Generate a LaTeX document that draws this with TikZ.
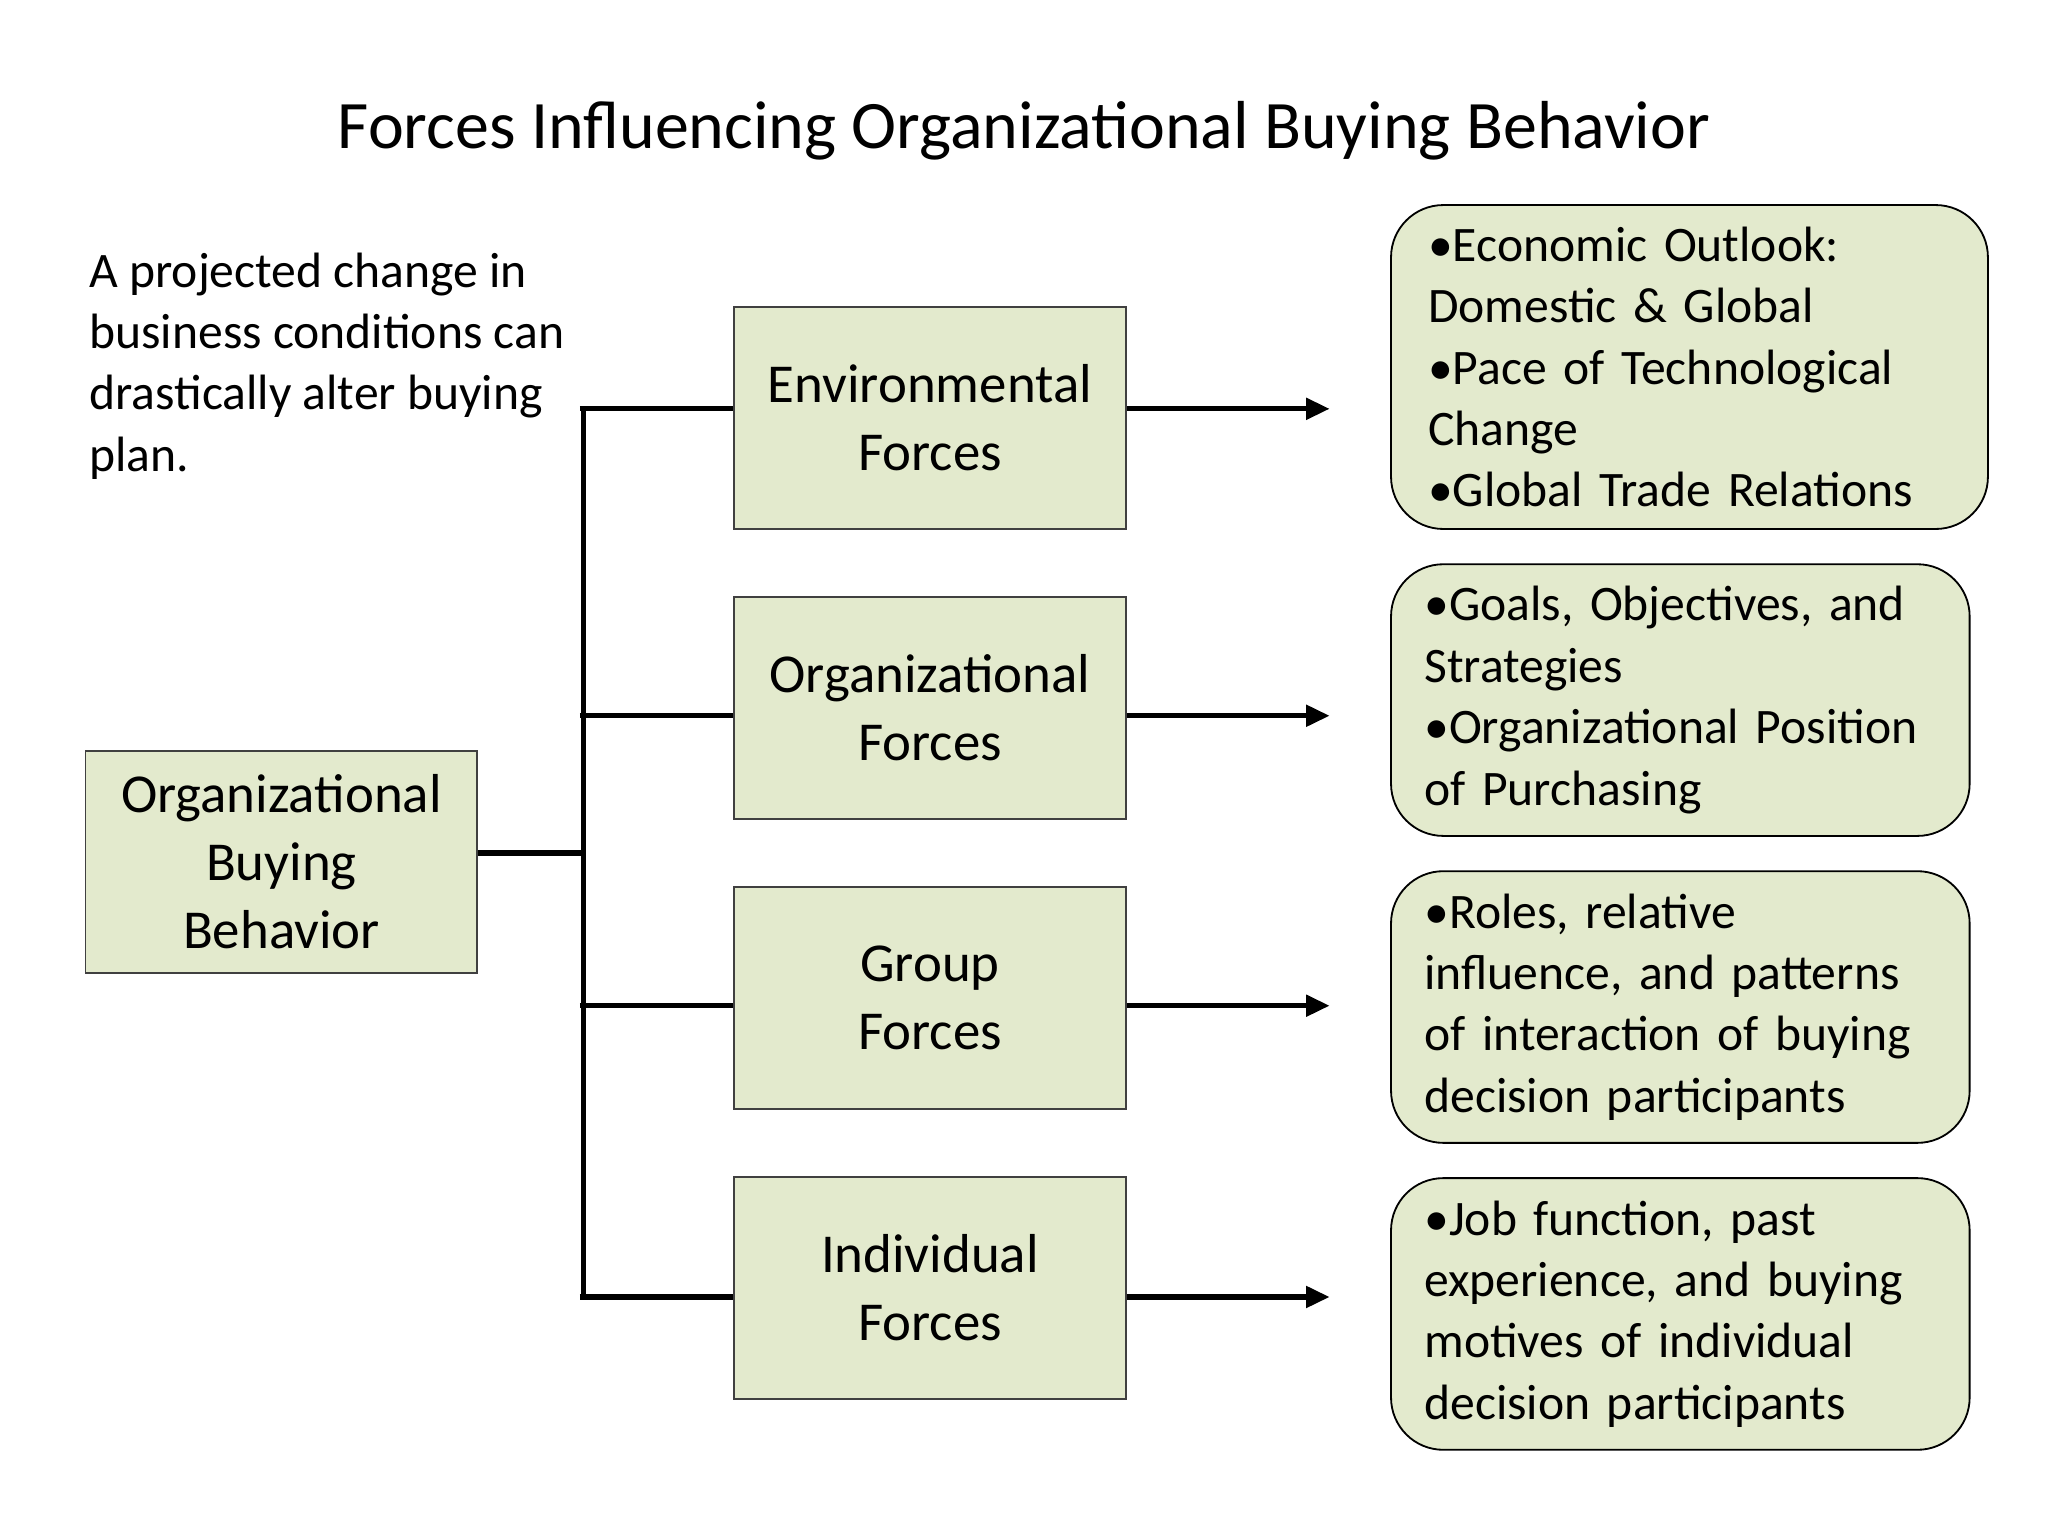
\documentclass[tikz,border=0pt]{standalone}
\usepackage{fontspec}
\setmainfont{Carlito}
\usetikzlibrary{arrows.meta}
\definecolor{boxfill}{HTML}{E3EACD}
\definecolor{boxline}{HTML}{404040}
\begin{document}
\begin{tikzpicture}[x=0.5pt,y=-0.5pt,
  sq/.style={draw=boxline,fill=boxfill,line width=0.7pt,minimum width=150pt,minimum height=85pt,align=center,inner sep=0pt,font=\fontsize{21}{26}\selectfont},
  rb/.style={draw=black,fill=boxfill,line width=0.7pt,rounded corners=20pt,align=left,inner sep=0pt,font=\fontsize{19}{23.5}\selectfont},
  conn/.style={line width=2pt},
  arr/.style={line width=2pt,-{Triangle[length=9pt,width=8pt]}}]
\useasboundingbox (0,0) rectangle (1568,1176);
\node (title) at (784,100) {\fontsize{26}{30}\selectfont Forces Influencing Organizational Buying Behavior};
\node (note) [anchor=north west,align=left,inner sep=0pt,font=\fontsize{19}{23.5}\selectfont] at (68,193) {A projected change in\\business conditions can\\drastically alter buying\\plan.};
\node (obb) [sq] at (215.5,660) {Organizational\\Buying\\Behavior};
\node (env) [sq] at (712,320) {Environmental\\Forces};
\node (org) [sq] at (712,542) {Organizational\\Forces};
\node (grp) [sq] at (712,764) {Group\\Forces};
\node (ind) [sq] at (712,986) {Individual\\Forces};
\node (r1) [rb,minimum width=228.5pt,minimum height=124pt,text width=200pt] at (1293.5,281) {•Economic Outlook:\\Domestic \& Global\\•Pace of Technological\\Change\\•Global Trade Relations};
\node (r2) [rb,minimum width=221.5pt,minimum height=104pt,text width=196pt] at (1286.5,536) {•Goals, Objectives, and\\Strategies\\•Organizational Position\\of Purchasing};
\node (r3) [rb,minimum width=221.5pt,minimum height=104pt,text width=196pt] at (1286.5,771) {•Roles, relative\\influence, and patterns\\of interaction of buying\\decision participants};
\node (r4) [rb,minimum width=221.5pt,minimum height=104pt,text width=196pt] at (1286.5,1006) {•Job function, past\\experience, and buying\\motives of individual\\decision participants};
\coordinate (top) at (447,313);
\coordinate (bot) at (447,993);
\coordinate (mid) at (447,653);
\draw[conn] (top) -- (bot);
\draw[conn] (obb.east |- mid) -- (mid);
\draw[conn] (444,313) -- (env.west |- 0,313);
\draw[conn] (444,548) -- (org.west |- 0,548);
\draw[conn] (444,770) -- (grp.west |- 0,770);
\draw[conn] (444,993) -- (ind.west |- 0,993);
\draw[arr] (env.east |- 0,313) -- (1018,313);
\draw[arr] (org.east |- 0,548) -- (1018,548);
\draw[arr] (grp.east |- 0,770) -- (1018,770);
\draw[arr] (ind.east |- 0,993) -- (1018,993);
\end{tikzpicture}
\end{document}
